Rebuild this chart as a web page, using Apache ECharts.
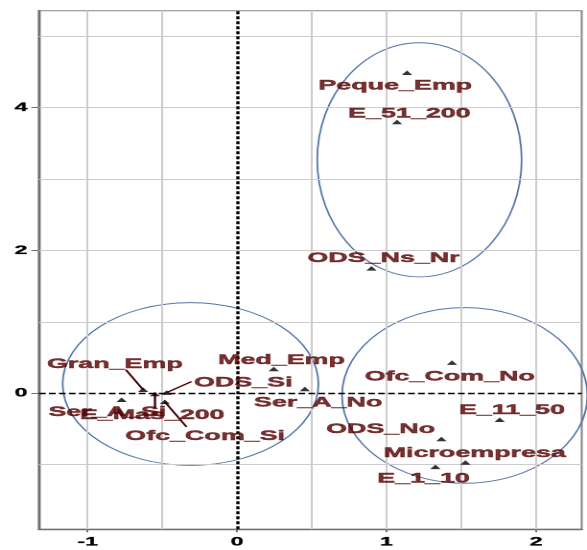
<!DOCTYPE html>
<html><head><meta charset="utf-8">
<script src="https://cdn.jsdelivr.net/npm/echarts@6/dist/echarts.min.js"></script>
<style>
html,body{margin:0;padding:0;background:#fff;overflow:hidden;}
#wrap{width:587px;height:550px;overflow:hidden;position:relative;background:#fff;}
#chart{width:306px;height:550px;transform:scaleX(1.918301);transform-origin:0 0;}
</style></head><body>
<div id="wrap"><div id="chart"></div></div>
<script>
// ---- data ----
const categories = ['Peque_Emp','E_51_200','ODS_Ns_Nr','Ofc_Com_No','Ser_A_No','E_11_50','ODS_No','Microempresa','E_1_10','Med_Emp','Gran_Emp','ODS_Si','Ser_A_Si','E_Mas_200','Ofc_Com_Si'];
const xValues = [1.137, 1.070, 0.899, 1.438, 0.453, 1.757, 1.367, 1.528, 1.327, 0.245, -0.629, -0.472, -0.773, -0.550, -0.484];
const yValues = [4.49, 3.80, 1.75, 0.43, 0.06, -0.37, -0.64, -0.97, -1.03, 0.34, 0.05, 0.01, -0.09, -0.01, -0.12];

const ellipseCenterX = [1.220, -0.312, 1.523];
const ellipseCenterY = [3.27, 0.13, -0.03];
const ellipseRadiusX = [0.684, 0.856, 0.821];
const ellipseRadiusY = [1.64, 1.14, 1.23];

const xTickLabels = [-1, 0, 1, 2];
const yTickLabels = [0, 2, 4];
const xGridValues = [-1, -0.5, 0.5, 1, 1.5, 2];
const yGridValues = [-1, 1, 2, 3, 4, 5];

// ---- styling (label placement in screen px) ----
const S = 587 / 306;
const labelOffsets = {
  Peque_Emp: [-11.8, 13], E_51_200: [12.4, -8.4], ODS_Ns_Nr: [12, -10],
  Ofc_Com_No: [-2.3, 14], Ser_A_No: [13.3, 13.7], E_11_50: [12.2, -9.5],
  ODS_No: [-60.9, -10], Microempresa: [9.3, -9.4], E_1_10: [-11.9, 12],
  Med_Emp: [7.7, -9], Gran_Emp: [-28.3, -25.7], ODS_Si: [76.6, -10],
  Ser_A_Si: [-14.3, 12.3], E_Mas_200: [-2.8, 21.3], Ofc_Com_Si: [40.3, 34.3]
};
const connectorEnds = { Gran_Emp: [-17.3, -20], ODS_Si: [25, -11], Ofc_Com_Si: [21.7, 25], E_Mas_200: [0, 14] };

const FONT = 'Liberation Sans, Arial, sans-serif';
const chart = echarts.init(document.getElementById('chart'), null, { renderer: 'canvas', devicePixelRatio: 2 });

const pointData = categories.map((n, i) => ({
  name: n, value: [xValues[i], yValues[i]],
  label: { offset: [labelOffsets[n][0] / S, labelOffsets[n][1]] }
}));
const connNames = categories.filter(n => connectorEnds[n]);
const connData = connNames.map(n => { const i = categories.indexOf(n); return [xValues[i], yValues[i]]; });
const ellipseData = ellipseCenterX.map((c, i) => [c, ellipseCenterY[i], ellipseRadiusX[i], ellipseRadiusY[i]]);

const gridLineStyle = { color: '#cccccc', width: 1, type: 'solid' };

chart.setOption({
  animation: false,
  backgroundColor: '#fff',
  grid: { left: 39 / S, right: 5.3 / S, top: 10.7, bottom: 20.7, show: true, borderColor: '#858585', borderWidth: 1, containLabel: false },
  xAxis: {
    type: 'value', min: -1.326, max: 2.306,
    splitLine: { show: false },
    axisLine: { show: true, onZero: false, lineStyle: { color: '#707070', width: 1.4 } },
    axisTick: { show: true, customValues: xTickLabels, length: 3, lineStyle: { color: '#707070' } },
    axisLabel: { customValues: xTickLabels, margin: 7, fontSize: 12, fontWeight: 'bold', color: '#000', fontFamily: FONT, textBorderColor: '#000', textBorderWidth: 0.3 }
  },
  yAxis: {
    type: 'value', min: -1.905, max: 5.359,
    splitLine: { show: false },
    axisLine: { show: true, onZero: false, lineStyle: { color: '#707070', width: 1.4 } },
    axisTick: { show: true, customValues: yTickLabels, length: 4, lineStyle: { color: '#707070' } },
    axisLabel: { customValues: yTickLabels, margin: 6, fontSize: 12, fontWeight: 'bold', color: '#000', fontFamily: FONT, textBorderColor: '#000', textBorderWidth: 0.3 }
  },
  series: [
    {
      type: 'scatter', data: [], silent: true, z: 1,
      markLine: {
        silent: true, symbol: ['none', 'none'], label: { show: false }, animation: false,
        data: [
          ...xGridValues.map(v => ({ xAxis: v, lineStyle: gridLineStyle })),
          ...yGridValues.map(v => ({ yAxis: v, lineStyle: gridLineStyle }))
        ]
      }
    },
    {
      type: 'scatter', data: [], silent: true, z: 2,
      markLine: {
        silent: true, symbol: ['none', 'none'], label: { show: false }, animation: false,
        data: [
          { xAxis: 0, lineStyle: { color: '#000', width: 1.7, type: [3, 2] } },
          { yAxis: 0, lineStyle: { color: '#000', width: 1.4, type: [3.5, 1.7] } }
        ]
      }
    },
    {
      type: 'custom', z: 3, silent: true, clip: false,
      data: ellipseData,
      encode: { x: 0, y: 1 },
      renderItem: function (params, api) {
        const c = api.coord([api.value(0), api.value(1)]);
        const sz = api.size([api.value(2), api.value(3)]);
        return { type: 'ellipse', shape: { cx: c[0], cy: c[1], rx: sz[0], ry: sz[1] },
                 style: { fill: 'none', stroke: '#5574aa', lineWidth: 0.9 } };
      }
    },
    {
      type: 'custom', z: 4, silent: true, clip: false,
      data: connData,
      encode: { x: 0, y: 1 },
      renderItem: function (params, api) {
        const p = api.coord([api.value(0), api.value(1)]);
        const off = connectorEnds[connNames[params.dataIndex]];
        return { type: 'line', shape: { x1: p[0], y1: p[1], x2: p[0] + off[0] / S, y2: p[1] + off[1] },
                 style: { stroke: '#4a0000', lineWidth: 1.2 } };
      }
    },
    {
      type: 'scatter', z: 5, silent: true,
      symbol: 'triangle', symbolSize: [5.4, 4.5],
      itemStyle: { color: '#000' },
      data: pointData,
      label: { show: true, position: 'inside', formatter: '{b}', fontSize: 14, fontWeight: 'bold', color: '#520000', fontFamily: FONT, textBorderColor: '#5a0000', textBorderWidth: 0.45 },
      emphasis: { disabled: true }
    }
  ]
});
</script>
</body></html>
